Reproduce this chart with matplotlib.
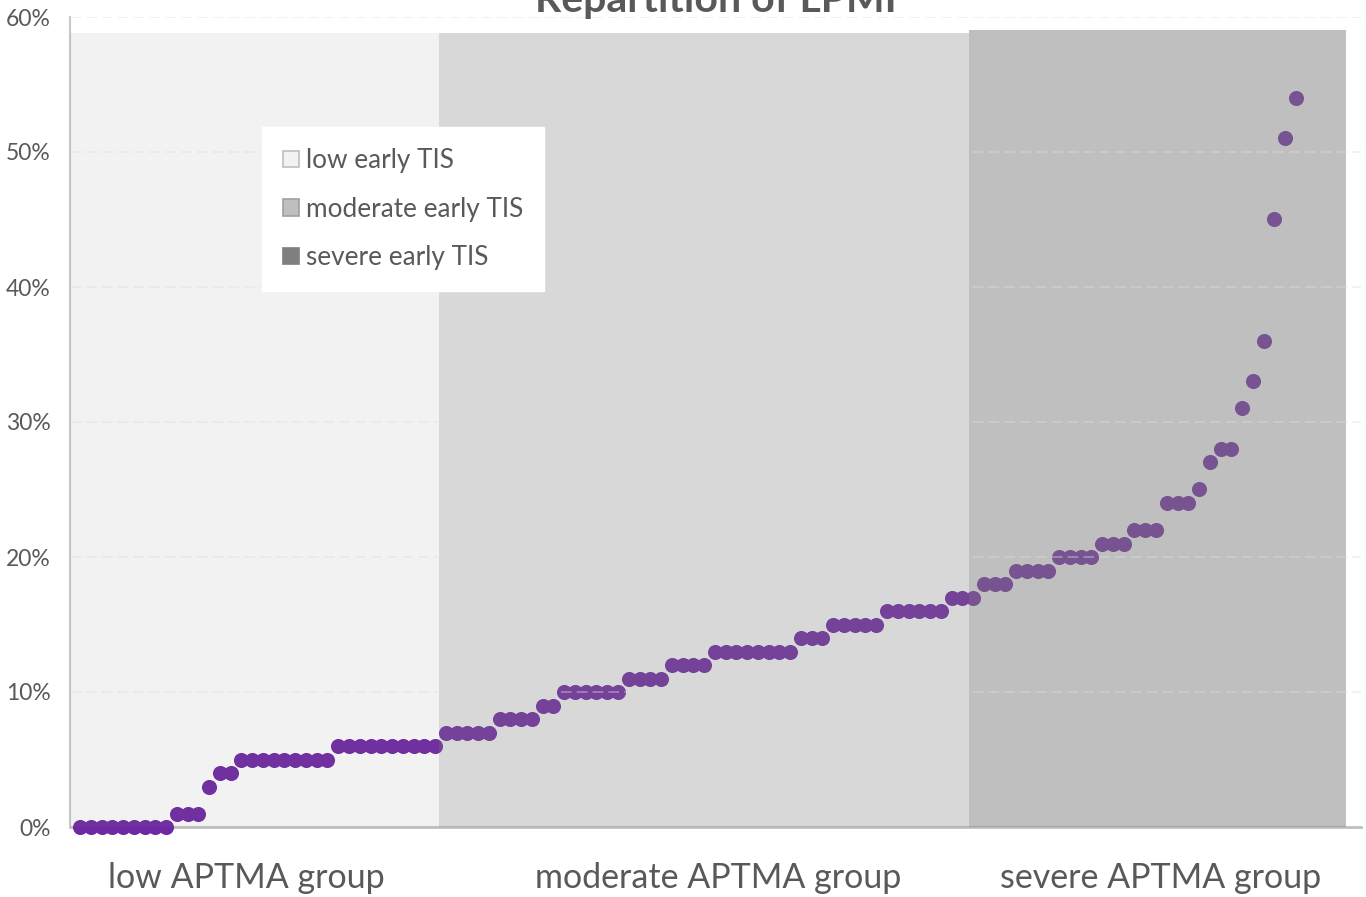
import matplotlib.pyplot as plt
from matplotlib.patches import Patch
from matplotlib.ticker import PercentFormatter

plt.rcParams['font.family'] = ['Lato', 'DejaVu Sans']

# LPMI values (%), sorted, one point per patient
low_vals = [0, 0, 0, 0, 0, 0, 0, 0, 0, 1, 1, 1, 3, 4, 4,
            5, 5, 5, 5, 5, 5, 5, 5, 5,
            6, 6, 6, 6, 6, 6, 6, 6, 6, 6]
moderate_vals = [7, 7, 7, 7, 7, 8, 8, 8, 8, 9, 9,
                 10, 10, 10, 10, 10, 10, 11, 11, 11, 11, 12, 12, 12, 12,
                 13, 13, 13, 13, 13, 13, 13, 13, 14, 14, 14,
                 15, 15, 15, 15, 15, 16, 16, 16, 16, 16, 16, 17, 17]
severe_vals = [17, 18, 18, 18, 19, 19, 19, 19, 20, 20, 20, 20,
               21, 21, 21, 22, 22, 22, 24, 24, 24, 25, 27, 28, 28,
               31, 33, 36, 45, 51, 54]

values = low_vals + moderate_vals + severe_vals
idx = list(range(len(values)))

# shaded early TIS bands (secondary series in the original)
band_labels = ['low early TIS', 'moderate early TIS', 'severe early TIS']
band_edges = [-0.93, 33.36, 82.6, 117.66]
band_tops = [58.8, 58.8, 59.0]
band_alpha = [0.10, 0.30, 0.50]
legend_colors = ['#F2F2F2', '#BFBFBF', '#7F7F7F']
legend_edges = ['#BFBFBF', '#A0A0A0', '#7F7F7F']

group_labels = ['low APTMA group', 'moderate APTMA group', 'severe APTMA group']
group_label_x = [15.5, 59.3, 100.4]

txt = '#595959'

fig = plt.figure(figsize=(13.66, 8.97), dpi=100)
ax = fig.add_axes([70 / 1366, 1 - 827 / 897, 1291 / 1366, 810 / 897])

ax.scatter(idx, values, s=118, color='#6F28A3', linewidths=0, zorder=2, clip_on=False)

for i in range(3):
    left, right = band_edges[i], band_edges[i + 1]
    ax.bar(left, band_tops[i], width=right - left, align='edge', color='#808080',
           alpha=band_alpha[i], linewidth=0, zorder=3)

ax.set_xlim(-0.93, 119.05)
ax.set_ylim(0, 60)
ax.set_yticks(range(0, 61, 10))
ax.yaxis.set_major_formatter(PercentFormatter(decimals=0))
ax.hlines(range(10, 61, 10), 0, 1, transform=ax.get_yaxis_transform(),
          colors='#DDDDDD', alpha=0.45, linewidth=1.2, linestyles=(0, (6.5, 3)), zorder=4)

ax.set_xticks(group_label_x)
ax.set_xticklabels(group_labels)
ax.tick_params(axis='x', length=0, pad=25, labelsize=24.5, labelcolor=txt)
ax.tick_params(axis='y', length=0, pad=14, labelsize=16.5, labelcolor=txt)

for side in ['top', 'right']:
    ax.spines[side].set_visible(False)
ax.spines['left'].set_color('#C8C8C8')
ax.spines['left'].set_linewidth(1.5)
ax.spines['bottom'].set_color('#BFBFBF')
ax.spines['bottom'].set_linewidth(2)
ax.spines['bottom'].set_zorder(1)

handles = [Patch(facecolor=legend_colors[i], edgecolor=legend_edges[i], linewidth=1.2,
                 label=band_labels[i]) for i in range(3)]
leg = ax.legend(handles=handles, loc='upper left', bbox_to_anchor=(0.1487, 0.864),
                fontsize=18.8, frameon=True, fancybox=False, framealpha=1,
                edgecolor='white', handlelength=0.6, handleheight=0.6,
                handletextpad=0.3, labelspacing=0.9, borderpad=0.8,
                borderaxespad=0)
leg.set_zorder(6)
for t in leg.get_texts():
    t.set_color(txt)

fig.text(716 / 1366, 1 - 12 / 897, 'Repartition of LPMI', ha='center', va='baseline',
         fontsize=29.5, fontweight='bold', color=txt)

fig.savefig('out.png', dpi=100)
